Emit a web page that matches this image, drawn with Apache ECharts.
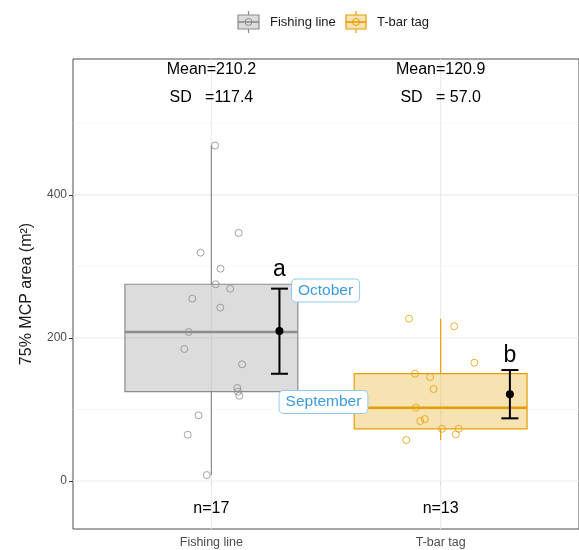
<!DOCTYPE html>
<html><head><meta charset="utf-8">
<script src="https://cdn.jsdelivr.net/npm/echarts@6/dist/echarts.min.js"></script>
<style>html,body{margin:0;padding:0;background:#fff}#c{width:579px;height:550px}</style>
</head><body><div id="c"></div>
<script>
// ---- data ----
const categories = ['Fishing line', 'T-bar tag'];
const catPos = [1, 2];
const fishX = [1.016, 1.119, 0.953, 1.040, 1.019, 1.082, 0.917, 1.039, 0.901, 0.882, 1.134, 1.113, 1.116, 1.122, 0.944, 0.897, 0.980];
const fishY = [469.0, 346.9, 319.3, 296.9, 275.1, 268.9, 255.0, 242.4, 208.4, 184.6, 163.2, 130.1, 124.9, 119.3, 91.9, 64.8, 8.4];
const tbarX = [1.862, 2.059, 2.147, 1.888, 1.954, 1.969, 1.892, 1.931, 1.911, 2.006, 2.079, 2.066, 1.850];
const tbarY = [227.0, 216.4, 165.5, 150.1, 145.5, 128.7, 102.5, 86.7, 83.9, 73.1, 73.1, 65.3, 57.3];
// [min, Q1, median, Q3, max]
const boxStats = [[8.4, 124.9, 208.4, 275.1, 469.0], [57.3, 73.1, 102.5, 150.1, 227.0]];
const errX = [1.297, 2.302];
const meanVals = [209.8, 121.3];
const ciLow = [150.0, 87.7];
const ciHigh = [269.0, 155.2];
const meanText = ['Mean=210.2', 'Mean=120.9'];
const sdText = ['SD   =117.4', 'SD   = 57.0'];
const nText = ['n=17', 'n=13'];
const letters = ['a', 'b'];
const letterY = [295, 175];
const monthLabels = ['October', 'September'];
const monthX = [1.498, 1.489];
const monthY = [266.4, 110.5];
const yTicks = [0, 200, 400];
const yMinor = [100, 300, 500];

const FONT = '"Liberation Sans", Arial, sans-serif';
const lineCols = ['#8c8c8c', '#E69F00'];
const fillCols = ['rgba(140,140,140,0.3)', 'rgba(230,159,0,0.3)'];
const YMIN = -67, YMAX = 590;

const chart = echarts.init(document.getElementById('c'), null, {renderer: 'canvas'});

function hGrid(params, api) {
  const cs = params.coordSys;
  const v = api.value(0), major = api.value(1);
  const y = api.coord([1, v])[1];
  return {type: 'line', shape: {x1: cs.x, y1: y, x2: cs.x + cs.width, y2: y},
    style: {stroke: major ? '#ebebeb' : '#f5f5f5', lineWidth: major ? 1.1 : 0.6}};
}
function vGrid(params, api) {
  const cs = params.coordSys;
  const x = api.coord([api.value(0), 0])[0];
  return {type: 'line', shape: {x1: x, y1: cs.y, x2: x, y2: cs.y + cs.height},
    style: {stroke: '#ebebeb', lineWidth: 1.1}};
}
function boxItem(params, api) {
  const i = params.dataIndex;
  const x = api.value(0);
  const s = boxStats[i];
  const hw = 0.377;
  const tl = api.coord([x - hw, s[3]]);
  const br = api.coord([x + hw, s[1]]);
  const cx = api.coord([x, 0])[0];
  const pMin = api.coord([x, s[0]])[1], pMax = api.coord([x, s[4]])[1], pMed = api.coord([x, s[2]])[1];
  const col = lineCols[i];
  return {type: 'group', children: [
    {type: 'line', shape: {x1: cx, y1: tl[1], x2: cx, y2: pMax}, style: {stroke: col, lineWidth: 1.2}},
    {type: 'line', shape: {x1: cx, y1: br[1], x2: cx, y2: pMin}, style: {stroke: col, lineWidth: 1.2}},
    {type: 'rect', shape: {x: tl[0], y: tl[1], width: br[0] - tl[0], height: br[1] - tl[1]},
      style: {fill: fillCols[i], stroke: col, lineWidth: 1.2}},
    {type: 'line', shape: {x1: tl[0], y1: pMed, x2: br[0], y2: pMed}, style: {stroke: col, lineWidth: 2.6}}
  ]};
}
function errItem(params, api) {
  const x = api.value(0), m = api.value(1), lo = api.value(2), hi = api.value(3);
  const pm = api.coord([x, m]), pl = api.coord([x, lo]), ph = api.coord([x, hi]);
  const cw = 8.5;
  return {type: 'group', children: [
    {type: 'line', shape: {x1: pm[0], y1: pl[1], x2: pm[0], y2: ph[1]}, style: {stroke: '#000', lineWidth: 2}},
    {type: 'line', shape: {x1: pm[0] - cw, y1: pl[1], x2: pm[0] + cw, y2: pl[1]}, style: {stroke: '#000', lineWidth: 2}},
    {type: 'line', shape: {x1: pm[0] - cw, y1: ph[1], x2: pm[0] + cw, y2: ph[1]}, style: {stroke: '#000', lineWidth: 2}},
    {type: 'circle', shape: {cx: pm[0], cy: pm[1], r: 4}, style: {fill: '#000'}}
  ]};
}
function textSeries(items, size, color, extra) {
  return {
    type: 'custom', clip: false, z: 10, silent: true,
    data: items.map(d => [d[0], d[1]]),
    renderItem: function (params, api) {
      const p = api.coord([api.value(0), api.value(1)]);
      const st = Object.assign({text: items[params.dataIndex][2], fill: color,
        font: size + 'px ' + FONT, align: 'center', verticalAlign: 'middle'}, extra || {});
      return {type: 'text', x: p[0], y: p[1], style: st};
    }
  };
}

const hData = yTicks.map(v => [v, 1]).concat(yMinor.map(v => [v, 0]));

const option = {
  animation: false,
  backgroundColor: '#fff',
  grid: {left: 73, top: 59, width: 512, height: 470, show: true, borderColor: '#4d4d4d', borderWidth: 1, backgroundColor: 'transparent'},
  xAxis: {
    type: 'value', min: 0.3966, max: 2.6034,
    axisLine: {show: false}, splitLine: {show: false},
    axisTick: {show: true, length: 4, lineStyle: {color: '#333'}, customValues: catPos},
    axisLabel: {show: true, customValues: catPos, color: '#4d4d4d', fontSize: 12.5, fontFamily: FONT, margin: 7,
      formatter: v => categories[Math.round(v) - 1]}
  },
  yAxis: {
    type: 'value', min: YMIN, max: YMAX,
    axisLine: {show: false}, splitLine: {show: false},
    axisTick: {show: true, length: 4, lineStyle: {color: '#333'}, customValues: yTicks},
    axisLabel: {show: true, customValues: yTicks, color: '#4d4d4d', fontSize: 12, fontFamily: FONT, margin: 6},
    name: '75% MCP area (m²)', nameLocation: 'middle', nameGap: 38,
    nameTextStyle: {fontSize: 16, color: '#1a1a1a', fontFamily: FONT}
  },
  series: [
    {type: 'custom', z: 1, silent: true, data: hData, renderItem: hGrid},
    {type: 'custom', z: 1, silent: true, data: catPos.map(v => [v]), renderItem: vGrid},
    {type: 'custom', z: 2, silent: true, data: catPos.map(v => [v]), renderItem: boxItem},
    {type: 'scatter', z: 3, silent: true, symbol: 'circle', symbolSize: 7,
      itemStyle: {color: 'rgba(0,0,0,0)', borderColor: lineCols[0], borderWidth: 1},
      data: fishX.map((x, i) => [x, fishY[i]])},
    {type: 'scatter', z: 3, silent: true, symbol: 'circle', symbolSize: 7,
      itemStyle: {color: 'rgba(0,0,0,0)', borderColor: lineCols[1], borderWidth: 1},
      data: tbarX.map((x, i) => [x, tbarY[i]])},
    {type: 'custom', z: 4, silent: true, data: errX.map((x, i) => [x, meanVals[i], ciLow[i], ciHigh[i]]), renderItem: errItem},
    textSeries(catPos.map((x, i) => [x, 575, meanText[i]]), 16, '#000'),
    textSeries(catPos.map((x, i) => [x, 536, sdText[i]]), 16, '#000'),
    textSeries(catPos.map((x, i) => [x, -38, nText[i]]), 16, '#000'),
    textSeries(errX.map((x, i) => [x, letterY[i], letters[i]]), 23, '#000'),
    textSeries(monthX.map((x, i) => [x, monthY[i], monthLabels[i]]), 15.5, '#3d9be0',
      {backgroundColor: '#fff', borderColor: '#8fcaf2', borderWidth: 1, borderRadius: 4, padding: [3, 6, 3, 6], lineHeight: 16})
  ],
  graphic: [
    {type: 'line', silent: true, shape: {x1: 248.5, y1: 11, x2: 248.5, y2: 33}, style: {stroke: lineCols[0], lineWidth: 1.2}},
    {type: 'rect', silent: true, shape: {x: 238, y: 15, width: 21, height: 14}, style: {fill: '#dcdcdc', stroke: lineCols[0], lineWidth: 1.2}},
    {type: 'line', silent: true, shape: {x1: 238, y1: 22, x2: 259, y2: 22}, style: {stroke: lineCols[0], lineWidth: 1.6}},
    {type: 'circle', silent: true, shape: {cx: 248.5, cy: 22, r: 3.5}, style: {fill: 'none', stroke: lineCols[0], lineWidth: 1}},
    {type: 'text', silent: true, x: 270, y: 22, style: {text: 'Fishing line', font: '13px ' + FONT, fill: '#1a1a1a', verticalAlign: 'middle'}},
    {type: 'line', silent: true, shape: {x1: 356, y1: 11, x2: 356, y2: 33}, style: {stroke: lineCols[1], lineWidth: 1.2}},
    {type: 'rect', silent: true, shape: {x: 346, y: 15, width: 20, height: 14}, style: {fill: '#f8e2b3', stroke: lineCols[1], lineWidth: 1.2}},
    {type: 'line', silent: true, shape: {x1: 346, y1: 22, x2: 366, y2: 22}, style: {stroke: lineCols[1], lineWidth: 1.6}},
    {type: 'circle', silent: true, shape: {cx: 356, cy: 22, r: 3.5}, style: {fill: 'none', stroke: lineCols[1], lineWidth: 1}},
    {type: 'text', silent: true, x: 377, y: 22, style: {text: 'T-bar tag', font: '13px ' + FONT, fill: '#1a1a1a', verticalAlign: 'middle'}}
  ]
};
chart.setOption(option);
</script>
</body></html>
